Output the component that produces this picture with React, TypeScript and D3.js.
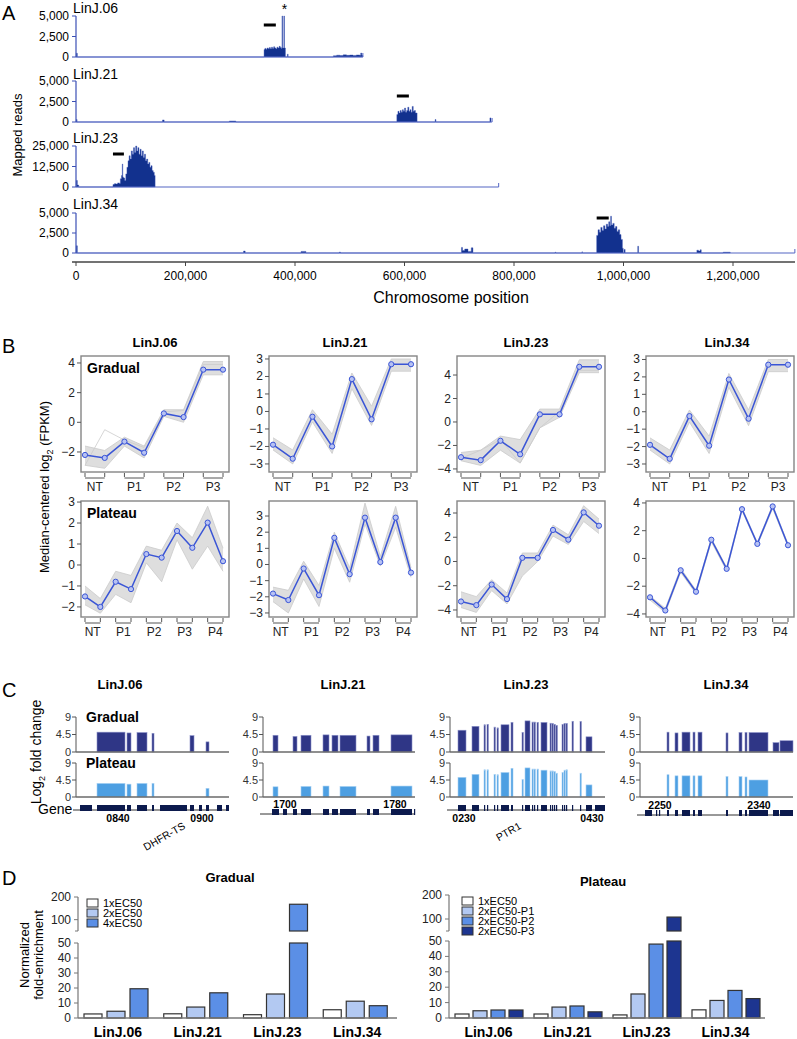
import React from 'react';
import * as d3 from 'd3';

const FONT = '"Liberation Sans", Arial, Helvetica, sans-serif';

// ---------------- Panel A data ----------------
const chrNames = ['LinJ.06', 'LinJ.21', 'LinJ.23', 'LinJ.34'];
const chrLengths = [524000, 760000, 772000, 1313000];
const chrMax = [5000, 5000, 25000, 5000];
const chrYTicks = [[0, 2500, 5000], [0, 2500, 5000], [0, 12500, 25000], [0, 2500, 5000]];
const positionTicks = [0, 200000, 400000, 600000, 800000, 1000000, 1200000];

const cov06: [number, number][] = [
  [0, 0], [500, 450], [2500, 0],
  [343500, 900], [345000, 1050], [347000, 950], [349000, 1100], [351000, 1000], [353000, 1150], [355000, 1000],
  [357000, 1200], [359000, 1050], [361000, 1250], [363000, 1100], [365000, 1000], [367000, 1200], [369000, 1100],
  [371000, 1300], [373000, 1150], [375000, 1050], [376200, 5000], [377400, 1100], [379600, 5000], [380800, 1100],
  [382500, 0], [386000, 350], [387500, 0],
  [470000, 150], [476000, 220], [482000, 180], [488000, 260], [494000, 200], [500000, 240], [506000, 190],
  [512000, 250], [518000, 200], [520000, 480], [522000, 200], [524000, 0],
];
const cov21: [number, number][] = [
  [0, 0], [500, 300], [2000, 0],
  [158000, 250], [161000, 0],
  [280000, 120], [292000, 0],
  [586000, 900], [588000, 1300], [590000, 1100], [592000, 1400], [594000, 1200], [596000, 1500], [598000, 1300],
  [600000, 1700], [602000, 1200], [604000, 1400], [606000, 1800], [608000, 1300], [610000, 1500], [612000, 1200],
  [614000, 1900], [616000, 1300], [618000, 1400], [620000, 1100], [623000, 0],
  [656000, 300], [657500, 0],
  [756000, 500], [758000, 0],
];
const cov23: [number, number][] = [
  [0, 0], [500, 4000], [2500, 1200], [5000, 0],
  [67500, 1500], [70000, 2000], [73000, 1800], [76000, 2500], [79000, 2200], [81000, 5000], [83000, 7000],
  [84500, 14000], [85500, 6000], [87000, 5500], [89000, 4000], [91000, 8000], [93000, 12000], [95000, 16000],
  [97000, 19000], [99000, 17000], [101000, 22000], [103000, 20000], [105000, 24000], [107000, 21000],
  [109000, 25000], [111000, 22000], [113000, 24000], [115000, 20000], [117000, 23000], [119000, 19000],
  [121000, 22000], [123000, 18000], [125000, 20000], [127000, 16000], [129000, 17000], [131000, 14000],
  [133000, 15000], [135000, 12000], [137000, 13000], [139000, 10000], [141000, 9000], [143000, 7000], [144500, 0],
];
const cov34: [number, number][] = [
  [0, 0], [500, 900], [2500, 0],
  [306000, 250], [309000, 0],
  [411000, 200], [420000, 0],
  [481000, 120], [483000, 0],
  [704000, 700], [706000, 300], [710000, 500], [716000, 200], [722000, 650], [725000, 0],
  [875000, 100], [876500, 0],
  [924000, 150], [925000, 0],
  [951000, 2200], [953500, 2900], [956000, 2600], [958500, 3200], [961000, 2800], [963500, 3400], [966000, 3000],
  [968500, 3600], [971000, 3300], [973000, 3900], [975000, 3400], [976500, 4600], [978000, 3500], [980500, 3700],
  [983000, 3100], [985500, 3300], [988000, 2700], [990500, 2900], [993000, 2300], [995500, 1700], [998000, 600],
  [999500, 0], [1001000, 450], [1003000, 0],
  [1026000, 850], [1027500, 0],
  [1134000, 350], [1137000, 250], [1140000, 400], [1142000, 0],
  [1182000, 100], [1195000, 0],
];
const coverage = [cov06, cov21, cov23, cov34];
const ampliconMarkers = [[343000, 365000], [586000, 608000], [67500, 87500], [951000, 973000]];
const starPosition = 381000;

// ---------------- Panel B data ----------------
const bChroms = ['LinJ.06', 'LinJ.21', 'LinJ.23', 'LinJ.34'];
const gradualStages = ['NT', 'P1', 'P2', 'P3'];
const plateauStages = ['NT', 'P1', 'P2', 'P3', 'P4'];
const gradualMedian = [
  [-2.2, -2.4, -1.3, -2.05, 0.6, 0.35, 3.55, 3.55],
  [-1.9, -2.7, -0.3, -2.0, 1.85, -0.45, 2.7, 2.7],
  [-3.0, -3.25, -1.6, -2.75, 0.65, 0.65, 4.7, 4.7],
  [-1.9, -2.7, -0.25, -1.95, 1.85, -0.4, 2.7, 2.7],
];
const gradualUpper = [
  [-1.6, -1.9, -1.0, -1.6, 0.85, 0.85, 4.1, 4.1],
  [-1.5, -2.2, 0.1, -1.3, 2.2, 0.3, 3.0, 3.0],
  [-2.6, -2.4, -1.2, -1.5, 1.1, 1.1, 5.3, 5.3],
  [-1.5, -2.2, 0.1, -1.4, 2.2, 0.1, 3.0, 3.0],
];
const gradualLower = [
  [-2.9, -3.1, -1.6, -2.4, 0.4, 0.0, 3.2, 3.2],
  [-2.2, -3.0, -0.6, -2.4, 1.3, -0.8, 2.3, 2.3],
  [-3.3, -3.7, -2.4, -3.5, -0.5, 0.4, 4.2, 4.2],
  [-2.2, -3.0, -0.6, -2.4, 1.4, -0.8, 2.3, 2.3],
];
const gradualStray = [
  [-2.9, -0.5, -1.2, -1.7, 0.7, 0.8, 3.9, 3.9],
  null,
  [-3.1, -2.4, -1.5, -3.5, -0.5, 0.9, 4.4, 4.4],
  null,
];
const plateauMedian = [
  [-1.5, -2.0, -0.8, -1.15, 0.52, 0.35, 1.62, 0.82, 2.02, 0.18],
  [-1.8, -2.2, -0.25, -1.9, 1.65, -0.6, 2.9, 0.15, 2.9, -0.5],
  [-3.3, -3.6, -1.9, -3.1, 0.3, 0.3, 2.6, 1.8, 4.05, 2.95],
  [-2.8, -3.75, -0.85, -2.4, 1.35, -0.75, 3.55, 1.05, 3.75, 0.95],
];
const plateauUpper = [
  [-1.0, -1.6, -0.3, -0.5, 0.9, 0.7, 2.0, 1.3, 2.8, 0.8],
  [-1.4, -1.6, 0.2, -1.3, 2.0, -0.2, 3.8, 0.5, 3.6, -0.2],
  [-2.5, -2.9, -1.5, -2.6, 0.7, 0.7, 3.0, 2.2, 4.6, 3.5],
  [-2.7, -3.6, -0.7, -2.3, 1.45, -0.65, 3.65, 1.15, 3.85, 1.05],
];
const plateauLower = [
  [-1.9, -2.3, -1.4, -1.8, 0.1, -0.8, 1.2, -0.2, 0.9, -0.3],
  [-2.3, -3.0, -0.9, -2.6, 1.0, -1.1, 2.5, -0.1, 2.3, -0.8],
  [-3.8, -4.2, -2.4, -3.5, -1.2, 0.0, 2.1, 1.4, 3.3, 2.3],
  [-3.0, -3.9, -1.0, -2.55, 1.2, -0.9, 3.45, 0.95, 3.6, 0.85],
];
const gradualTicks = [[-2, 0, 2, 4], [-3, -2, -1, 0, 1, 2, 3], [-4, -2, 0, 2, 4], [-3, -2, -1, 0, 1, 2, 3]];
const plateauTicks = [[-2, -1, 0, 1, 2, 3], [-3, -2, -1, 0, 1, 2, 3], [-4, -2, 0, 2, 4], [-4, -2, 0, 2, 4]];
const gradualDomain = [[-3.35, 4.47], [-3.46, 3.17], [-4.26, 5.62], [-3.46, 3.2]];
const plateauDomain = [[-2.48, 3.05], [-3.25, 3.93], [-4.58, 4.99], [-4.22, 4.14]];

// ---------------- Panel C data ----------------
const cChroms = ['LinJ.06', 'LinJ.21', 'LinJ.23', 'LinJ.34'];
const cTrackLength = [153, 152, 155, 153];
const cYTicks = [0, 4.5, 9];
const cGradualBars: number[][][] = [
  [[21, 49, 5.1], [51, 55, 4.9], [61, 71, 5.0], [76, 78, 4.8], [114, 118, 4.2], [130, 133, 2.6]],
  [[10, 15, 4.3], [30, 34, 4.0], [38, 48, 4.3], [60, 66, 4.4], [69, 75, 4.3], [77, 93, 4.3], [104, 107, 4.1], [110, 116, 4.3], [128, 149, 4.4]],
  [[8, 16, 5.6], [22, 29, 6.6], [34, 35, 7.0], [37, 38, 7.1], [44, 45, 6.4], [47, 48, 6.2], [51, 59, 7.0], [61, 63, 7.6],
   [72, 73, 5.0], [75, 80, 8.0], [82, 83, 7.7], [84, 85, 7.7], [87, 88, 7.6], [91, 97, 7.6], [100, 101, 7.4], [102, 103, 7.3],
   [104, 105, 7.1], [106, 107, 6.8], [112, 113, 7.1], [114, 115, 7.3], [116, 117, 7.3], [122, 123, 7.9], [130, 131, 7.8], [136, 142, 3.9]],
  [[27, 29, 5.1], [35, 38, 4.9], [42, 50, 5.1], [53, 55, 5.1], [58, 62, 5.1], [86, 88, 4.9], [99, 102, 5.0], [105, 107, 5.0],
   [109, 128, 5.0], [133, 139, 2.4], [140, 153, 2.9]],
];
const cPlateauBars: number[][][] = [
  [[21, 49, 3.6], [51, 55, 3.4], [61, 71, 3.6], [76, 78, 3.6], [130, 133, 2.3]],
  [[10, 15, 2.7], [38, 48, 2.8], [60, 66, 2.9], [77, 93, 2.8], [128, 149, 2.9]],
  [[8, 16, 5.2], [22, 29, 6.0], [34, 35, 7.2], [37, 38, 7.2], [44, 45, 6.0], [47, 48, 5.9], [51, 59, 6.5], [61, 63, 7.6],
   [72, 73, 4.6], [75, 80, 7.7], [82, 83, 7.4], [84, 85, 7.4], [87, 88, 7.4], [91, 97, 7.1], [100, 101, 6.9], [102, 103, 6.9],
   [104, 105, 6.7], [106, 107, 6.3], [112, 113, 6.5], [114, 115, 7.1], [116, 117, 7.2], [130, 131, 6.3], [136, 142, 3.2]],
  [[27, 29, 5.9], [35, 38, 5.6], [42, 50, 5.6], [53, 55, 5.6], [58, 62, 5.6], [86, 88, 5.4], [99, 102, 5.4], [105, 107, 5.3], [109, 128, 4.5]],
];
const cGenes: number[][][] = [
  [[4, 16], [21, 49], [51, 55], [61, 71], [76, 78], [84, 111], [114, 118], [123, 126], [130, 133], [141, 146], [150, 153]],
  [[9, 16], [20, 24], [30, 34], [38, 48], [60, 66], [69, 75], [77, 93], [104, 107], [110, 116], [128, 149], [151, 152]],
  [[8, 16], [22, 29], [34, 35], [37, 38], [44, 45], [47, 48], [51, 59], [61, 63], [72, 73], [75, 80], [82, 83], [84, 85], [87, 88],
   [91, 97], [100, 101], [102, 103], [104, 105], [106, 107], [112, 113], [114, 115], [116, 117], [122, 123], [130, 131], [136, 142], [145, 155]],
  [[5, 12], [16, 17], [19, 20], [27, 29], [35, 38], [42, 50], [53, 55], [58, 62], [86, 88], [99, 102], [105, 107], [109, 128], [133, 139], [140, 153]],
];
const cGeneIds = [
  [[42, '0840'], [126, '0900']],
  [[22, '1700'], [132, '1780']],
  [[14, '0230'], [142, '0430']],
  [[20, '2250'], [119, '2340']],
];
const cGeneNames = [[[110, 'DHFR-TS']], [], [[72, 'PTR1']], []];

// ---------------- Panel D data ----------------
const dGroups = ['LinJ.06', 'LinJ.21', 'LinJ.23', 'LinJ.34'];
const gradualSeries = ['1xEC50', '2xEC50', '4xEC50'];
const gradualEnrichment = [
  [2.7, 4.5, 19.5],
  [2.8, 7.3, 16.8],
  [2.2, 16.0, 168],
  [5.5, 11.2, 8.2],
];
const plateauSeries = ['1xEC50', '2xEC50-P1', '2xEC50-P2', '2xEC50-P3'];
const plateauEnrichment = [
  [2.6, 4.7, 5.2, 5.2],
  [2.6, 7.1, 7.8, 4.0],
  [2.0, 15.6, 48.0, 108],
  [5.3, 11.4, 17.9, 12.6],
];
const dLowTicks = [0, 10, 20, 30, 40, 50];
const dHighTicks = [100, 200];
const gradualColors = ['#ffffff', '#b3c9f2', '#5b8fe6'];
const plateauColors = ['#ffffff', '#b3c9f2', '#5b8fe6', '#1d3590'];

// ---------------- components ----------------
const fmtComma = d3.format(',');
const fmtInt = d3.format('d');

function PanelA() {
  const x = d3.scaleLinear().domain([0, 1200000]).range([76, 733]);
  const rowTop = [16, 81, 146, 213];
  const rowBase = [57, 122, 187, 253];
  const markerY = [25, 96, 154, 218];
  const labelY = [13, 79, 143, 209];
  return (
    <g>
      <text x={2} y={20} fontSize={20} fontFamily={FONT}>A</text>
      <text transform="translate(22,135) rotate(-90)" textAnchor="middle" fontSize={13} fontFamily={FONT}>Mapped reads</text>
      {chrNames.map((name, i) => {
        const y = d3.scaleLinear().domain([0, chrMax[i]]).range([rowBase[i], rowTop[i]]);
        const area = d3.area<[number, number]>()
          .x(d => x(d[0]))
          .y0(rowBase[i])
          .y1(d => y(d[1]))
          .curve(d3.curveStepAfter);
        return (
          <g key={name}>
            <text x={73} y={labelY[i]} fontSize={14} fontFamily={FONT}>{name}</text>
            <path d={area(coverage[i]) || ''} fill="#12318e" stroke="#3d55b8" strokeWidth={0.4} />
            <line x1={x(0)} x2={x(chrLengths[i])} y1={rowBase[i]} y2={rowBase[i]} stroke="#5567c4" strokeWidth={1.2} />
            <line x1={x(chrLengths[i])} x2={x(chrLengths[i])} y1={rowBase[i]} y2={rowBase[i] - 4} stroke="#5567c4" strokeWidth={1} />
            <line x1={76} x2={76} y1={rowTop[i]} y2={rowBase[i]} stroke="#3b4fb5" strokeWidth={1.2} />
            {chrYTicks[i].map(t => (
              <g key={t}>
                <line x1={72} x2={76} y1={y(t)} y2={y(t)} stroke="#3b4fb5" strokeWidth={1} />
                <text x={69} y={y(t) + 4} textAnchor="end" fontSize={12} fontFamily={FONT}>{fmtComma(t)}</text>
              </g>
            ))}
            <line x1={x(ampliconMarkers[i][0])} x2={x(ampliconMarkers[i][1])} y1={markerY[i]} y2={markerY[i]} stroke="#000" strokeWidth={3} />
          </g>
        );
      })}
      <text x={x(starPosition)} y={14} textAnchor="middle" fontSize={14} fontFamily={FONT}>*</text>
      <line x1={72} x2={795} y1={262} y2={262} stroke="#444" strokeWidth={1.5} />
      {positionTicks.map(t => (
        <g key={t}>
          <line x1={x(t)} x2={x(t)} y1={262} y2={266} stroke="#444" strokeWidth={1} />
          <text x={x(t)} y={280} textAnchor="middle" fontSize={12} fontFamily={FONT}>{fmtComma(t)}</text>
        </g>
      ))}
      <text x={451} y={303} textAnchor="middle" fontSize={16} fontFamily={FONT}>Chromosome position</text>
    </g>
  );
}

function LinePanel(props: {
  left: number; top: number; stages: string[]; median: number[]; upper: number[]; lower: number[];
  stray: number[] | null; ticks: number[]; domain: number[]; label?: string;
}) {
  const { left, top, stages, median, upper, lower, stray, ticks, domain, label } = props;
  const w = 148, h = 116;
  const idx = median.map((_, i) => i);
  const x = d3.scalePoint<number>().domain(idx).range([left + 4, left + w - 6]);
  const y = d3.scaleLinear().domain(domain).range([top + h, top]);
  const line = d3.line<number>().x((_, i) => x(i) as number).y(d => y(d));
  const band = d3.area<number>().x((_, i) => x(i) as number).y0((_, i) => y(lower[i])).y1(d => y(d));
  const bottom = top + h;
  return (
    <g>
      <path d={band(upper) || ''} fill="#dedede" stroke="none" />
      <path d={line(upper) || ''} fill="none" stroke="#cacaca" strokeWidth={0.8} />
      <path d={line(lower) || ''} fill="none" stroke="#cacaca" strokeWidth={0.8} />
      {stray && <path d={line(stray) || ''} fill="none" stroke="#cccccc" strokeWidth={0.8} />}
      <path d={line(median) || ''} fill="none" stroke="#3a55d6" strokeWidth={1.5} />
      {median.map((v, i) => (
        <circle key={i} cx={x(i)} cy={y(v)} r={2.6} fill="#b7c2f3" stroke="#3a55d6" strokeWidth={1} />
      ))}
      <rect x={left} y={top} width={w} height={h} fill="none" stroke="#858585" strokeWidth={1.4} />
      {ticks.map(t => (
        <g key={t}>
          <line x1={left - 4} x2={left} y1={y(t)} y2={y(t)} stroke="#555" strokeWidth={1} />
          <text x={left - 6} y={y(t) + 4} textAnchor="end" fontSize={12} fontFamily={FONT} fill="#222">{fmtInt(t)}</text>
        </g>
      ))}
      {stages.map((s, g) => {
        const x0 = x(2 * g) as number, x1 = x(2 * g + 1) as number;
        return (
          <g key={s}>
            <line x1={x0} x2={x0} y1={bottom + 1} y2={bottom + 5} stroke="#555" strokeWidth={1} />
            <line x1={x1} x2={x1} y1={bottom + 1} y2={bottom + 5} stroke="#555" strokeWidth={1} />
            <line x1={x0} x2={x1} y1={bottom + 6} y2={bottom + 6} stroke="#555" strokeWidth={1} />
            <text x={(x0 + x1) / 2} y={bottom + 19} textAnchor="middle" fontSize={12} fontFamily={FONT} fill="#222">{s}</text>
          </g>
        );
      })}
      {label && <text x={left + 6} y={top + 17} fontSize={14} fontWeight="bold" fontFamily={FONT}>{label}</text>}
    </g>
  );
}

function PanelB() {
  const lefts = [81, 269, 457, 646];
  const titleX = [155, 345, 526, 727];
  return (
    <g>
      <text x={2} y={353} fontSize={20} fontFamily={FONT}>B</text>
      <text transform="translate(49,487) rotate(-90)" textAnchor="middle" fontSize={13} fontFamily={FONT}>
        Median-centered log<tspan fontSize={9} dy={4}>2</tspan><tspan dy={-4}> (FPKM)</tspan>
      </text>
      {bChroms.map((c, i) => (
        <g key={c}>
          <text x={titleX[i]} y={347} textAnchor="middle" fontSize={13} fontWeight="bold" fontFamily={FONT}>{c}</text>
          <LinePanel left={lefts[i]} top={356} stages={gradualStages} median={gradualMedian[i]} upper={gradualUpper[i]}
            lower={gradualLower[i]} stray={gradualStray[i]} ticks={gradualTicks[i]} domain={gradualDomain[i]}
            label={i === 0 ? 'Gradual' : undefined} />
          <LinePanel left={lefts[i]} top={501} stages={plateauStages} median={plateauMedian[i]} upper={plateauUpper[i]}
            lower={plateauLower[i]} stray={null} ticks={plateauTicks[i]} domain={plateauDomain[i]}
            label={i === 0 ? 'Plateau' : undefined} />
        </g>
      ))}
    </g>
  );
}

function PanelC() {
  const axisX = [76, 263, 450, 640];
  const titleX = [120, 343, 526, 726];
  const geneY = [808, 812, 808, 813];
  const idAbove = [false, true, false, true];
  const yG = d3.scaleLinear().domain([0, 9]).range([752, 717]);
  const yP = d3.scaleLinear().domain([0, 9]).range([797, 763]);
  return (
    <g>
      <text x={2} y={697} fontSize={20} fontFamily={FONT}>C</text>
      <text transform="translate(41,752) rotate(-90)" textAnchor="middle" fontSize={14} fontFamily={FONT}>
        Log<tspan fontSize={9} dy={4}>2</tspan><tspan dy={-4}> fold change</tspan>
      </text>
      <text x={38} y={814} fontSize={14} fontFamily={FONT}>Gene</text>
      <text x={86} y={722} fontSize={14} fontWeight="bold" fontFamily={FONT}>Gradual</text>
      <text x={86} y={768} fontSize={14} fontWeight="bold" fontFamily={FONT}>Plateau</text>
      {cChroms.map((c, i) => {
        const x = d3.scaleLinear().domain([0, cTrackLength[i]]).range([axisX[i], axisX[i] + cTrackLength[i]]);
        const gy = geneY[i];
        const renderBars = (bars: number[][], ys: d3.ScaleLinear<number, number>, color: string, edge: string) =>
          bars.map((b, k) => {
            const x0 = x(b[0]), x1 = x(b[1]);
            return <rect key={k} x={x0} y={ys(b[2])} width={Math.max(1.4, x1 - x0)} height={ys(0) - ys(b[2])}
              fill={color} stroke={edge} strokeWidth={0.6} />;
          });
        const axis = (ys: d3.ScaleLinear<number, number>) => (
          <g>
            <line x1={axisX[i]} x2={axisX[i]} y1={ys(9)} y2={ys(0)} stroke="#555" strokeWidth={1} />
            {cYTicks.map(t => (
              <g key={t}>
                <line x1={axisX[i] - 4} x2={axisX[i]} y1={ys(t)} y2={ys(t)} stroke="#555" strokeWidth={1} />
                <text x={axisX[i] - 5} y={ys(t) + 3.5} textAnchor="end" fontSize={11} fontFamily={FONT} fill="#333">{t}</text>
              </g>
            ))}
          </g>
        );
        return (
          <g key={c}>
            <text x={titleX[i]} y={689} textAnchor="middle" fontSize={13} fontWeight="bold" fontFamily={FONT}>{c}</text>
            {renderBars(cGradualBars[i], yG, '#2f3686', '#8a90c8')}
            {renderBars(cPlateauBars[i], yP, '#4d9fe2', '#a9d2f3')}
            {axis(yG)}
            {axis(yP)}
            <line x1={axisX[i]} x2={x(cTrackLength[i])} y1={yG(0)} y2={yG(0)} stroke="#6a6a6a" strokeWidth={1.6} />
            <line x1={axisX[i]} x2={x(cTrackLength[i])} y1={yP(0)} y2={yP(0)} stroke="#6a6a6a" strokeWidth={1.6} />
            <line x1={x(0) - 3} x2={x(cTrackLength[i])} y1={gy + 2} y2={gy + 2} stroke="#333" strokeWidth={1} />
            {cGenes[i].map((g, k) => (
              <rect key={k} x={x(g[0])} y={gy - 3} width={Math.max(1.2, x(g[1]) - x(g[0]))} height={6} fill="#0c1a4d" />
            ))}
            {cGeneIds[i].map(([p, s]) => (
              <text key={s as string} x={x(p as number)} y={idAbove[i] ? gy - 4 : gy + 14} textAnchor="middle"
                fontSize={10.5} fontWeight="bold" fontFamily={FONT}>{s}</text>
            ))}
            {cGeneNames[i].map(([p, s]) => (
              <text key={s as string} transform={`translate(${x(p as number)},${gy + 20}) rotate(-30)`} textAnchor="end"
                fontSize={10.5} fontFamily={FONT}>{s}</text>
            ))}
          </g>
        );
      })}
    </g>
  );
}

function BarPanel(props: {
  axisX: number; endX: number; yLowRange: number[]; yHighRange: number[]; series: string[]; values: number[][];
  colors: string[]; title: string; titleX: number; titleY: number; legendX: number; legendY: number;
  barWidth: number; barStep: number; innerOffset: number;
}) {
  const { axisX, endX, yLowRange, yHighRange, series, values, colors, title, titleX, titleY, legendX, legendY, barWidth, barStep, innerOffset } = props;
  const xb = d3.scaleBand<string>().domain(dGroups).range([axisX, endX]);
  const yLow = d3.scaleLinear().domain([0, 50]).range(yLowRange);
  const yHigh = d3.scaleLinear().domain([50, 200]).range(yHighRange);
  const base = yLow(0);
  return (
    <g>
      <text x={titleX} y={titleY} textAnchor="middle" fontSize={13} fontWeight="bold" fontFamily={FONT}>{title}</text>
      {dGroups.map((g, gi) => (
        <g key={g}>
          {values[gi].map((v, si) => {
            const x0 = (xb(g) as number) + innerOffset + si * barStep;
            const lowTop = yLow(Math.min(v, 50));
            return (
              <g key={si}>
                <rect x={x0} y={lowTop} width={barWidth} height={base - lowTop} fill={colors[si]} stroke="#333" strokeWidth={1.2} />
                {v > 50 && (
                  <rect x={x0} y={yHigh(v)} width={barWidth} height={yHigh(50) - yHigh(v)} fill={colors[si]} stroke="#333" strokeWidth={1.2} />
                )}
              </g>
            );
          })}
          <text x={(xb(g) as number) + xb.bandwidth() / 2} y={1037} textAnchor="middle" fontSize={14} fontWeight="bold" fontFamily={FONT}>{g}</text>
        </g>
      ))}
      <line x1={axisX} x2={endX} y1={base} y2={base} stroke="#777" strokeWidth={1.5} />
      <line x1={axisX} x2={axisX} y1={yLow(50)} y2={base} stroke="#777" strokeWidth={1.2} />
      <line x1={axisX} x2={axisX} y1={yHigh(200)} y2={yHigh(50)} stroke="#777" strokeWidth={1.2} />
      {dLowTicks.map(t => (
        <g key={t}>
          <line x1={axisX - 4} x2={axisX} y1={yLow(t)} y2={yLow(t)} stroke="#777" strokeWidth={1} />
          <text x={axisX - 7} y={yLow(t) + 4} textAnchor="end" fontSize={12} fontFamily={FONT} fill="#222">{t}</text>
        </g>
      ))}
      {dHighTicks.map(t => (
        <g key={t}>
          <line x1={axisX - 4} x2={axisX} y1={yHigh(t)} y2={yHigh(t)} stroke="#777" strokeWidth={1} />
          <text x={axisX - 7} y={yHigh(t) + 4} textAnchor="end" fontSize={12} fontFamily={FONT} fill="#222">{t}</text>
        </g>
      ))}
      <line x1={axisX - 3} x2={axisX} y1={yHigh(50)} y2={yHigh(50)} stroke="#777" strokeWidth={1} />
      {series.map((s, si) => (
        <g key={s}>
          <rect x={legendX} y={legendY + si * 10 - 4} width={11} height={8} fill={colors[si]} stroke="#333" strokeWidth={1} />
          <text x={legendX + 16} y={legendY + si * 10 + 4} fontSize={11} fontFamily={FONT}>{s}</text>
        </g>
      ))}
    </g>
  );
}

function PanelD() {
  return (
    <g>
      <text x={2} y={885} fontSize={20} fontFamily={FONT}>D</text>
      <text transform="translate(29,955) rotate(-90)" textAnchor="middle" fontSize={13} fontFamily={FONT}>Normalized</text>
      <text transform="translate(43,955) rotate(-90)" textAnchor="middle" fontSize={13} fontFamily={FONT}>fold-enrichment</text>
      <BarPanel axisX={78} endX={397} yLowRange={[1018, 943]} yHighRange={[931, 897]} series={gradualSeries}
        values={gradualEnrichment} colors={gradualColors} title="Gradual" titleX={230} titleY={882}
        legendX={87} legendY={903} barWidth={18} barStep={23} innerOffset={6} />
      <BarPanel axisX={449} endX={765} yLowRange={[1018, 941]} yHighRange={[931, 895]} series={plateauSeries}
        values={plateauEnrichment} colors={plateauColors} title="Plateau" titleX={603} titleY={886}
        legendX={462} legendY={901} barWidth={14} barStep={18} innerOffset={6} />
    </g>
  );
}

export default function App() {
  return (
    <svg width={797} height={1039} viewBox="0 0 797 1039"
      style={{ position: 'absolute', left: 0, top: 0, display: 'block', background: '#fff' }}>
      <rect x={0} y={0} width={797} height={1039} fill="#fff" />
      <PanelA />
      <PanelB />
      <PanelC />
      <PanelD />
    </svg>
  );
}
